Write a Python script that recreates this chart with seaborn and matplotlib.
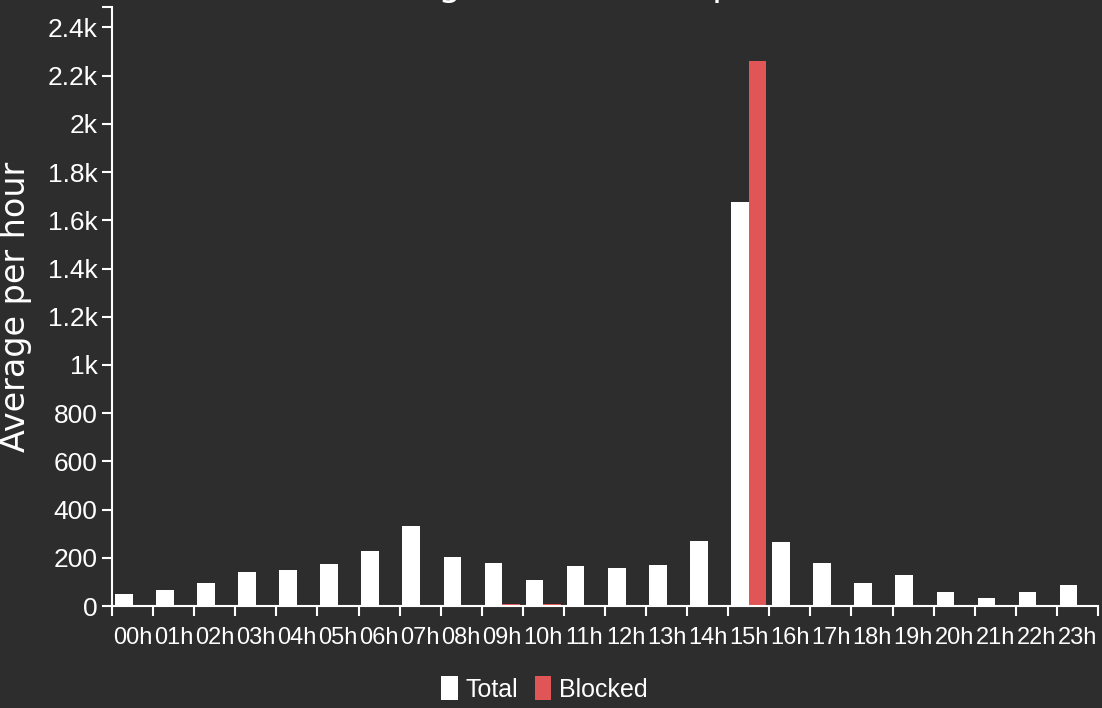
import matplotlib
matplotlib.use('Agg')
import matplotlib.pyplot as plt
import pandas as pd
import numpy as np
import seaborn as sns

hours = ["%02dh" % h for h in range(24)]
total = [48, 66, 95, 141, 148, 174, 228, 332, 205, 179, 109, 165,
         156, 170, 271, 1676, 264, 180, 97, 129, 59, 35, 58, 88]
blocked = [0, 0, 0, 0, 0, 0, 0, 0, 0, 7, 9, 0,
           3, 0, 0, 2259, 0, 0, 0, 4, 0, 0, 0, 0]
ytick_vals = [0, 200, 400, 600, 800, 1000, 1200, 1400, 1600, 1800, 2000, 2200, 2400]
ytick_labels = ["0", "200", "400", "600", "800", "1k", "1.2k", "1.4k", "1.6k",
                "1.8k", "2k", "2.2k", "2.4k"]

bg = "#2d2d2d"
fg = "white"
red = "#e05555"
narrow = "Liberation Sans"   # closest to the squeezed labels

df = pd.DataFrame({"hour": hours * 2,
                   "value": total + blocked,
                   "series": ["Total"] * 24 + ["Blocked"] * 24})

sns.set_theme(style="dark")
plt.rcParams['font.family'] = ['DejaVu Sans']

fig = plt.figure(figsize=(11.02, 7.08), dpi=100, facecolor=bg)
ax = fig.add_axes([112 / 1102, 1 - 606 / 708, 986 / 1102, 599 / 708])
ax.set_facecolor(bg)

sns.barplot(data=df, x="hour", y="value", hue="series",
            palette={"Total": fg, "Blocked": red}, width=0.86,
            saturation=1, linewidth=0, ax=ax)

ymax = max(blocked) * 1.1
ax.set_xlim(-0.5, 23.5)
ax.set_ylim(0, ymax)

for s in ["top", "right"]:
    ax.spines[s].set_visible(False)
for s in ["left", "bottom"]:
    ax.spines[s].set_color(fg)
    ax.spines[s].set_linewidth(1.5)

# labels in the middle of each hour, ticks on the edges
ax.set_xticks(range(24))
ax.set_xticklabels(hours, fontsize=17, color=fg, family=narrow)
ax.set_xticks(np.arange(-0.5, 24, 1), minor=True)
ax.tick_params(axis="x", which="major", length=0, pad=15)
ax.tick_params(axis="x", which="minor", length=7, width=1.5, color=fg, bottom=True)

ax.set_yticks(ytick_vals + [ymax])
ax.set_yticklabels(ytick_labels + [""], fontsize=19, color=fg, family=narrow)
ax.tick_params(axis="y", length=7, width=1.5, color=fg, pad=3.5, left=True)

ax.set_xlabel("")
ax.set_ylabel("Average per hour", fontsize=24, color=fg, va="center")
ax.yaxis.set_label_coords(-0.098, 0.5)
ax.grid(False)

# title sits mostly above the canvas, like in the screenshot
fig.text(371 / 1102, 1.0056, "Usage distribution per hour", fontsize=26,
         color=fg, ha="left", va="baseline")

handles, labels = ax.get_legend_handles_labels()
ax.legend(handles, labels, loc="center", bbox_to_anchor=(0.494, 0.027),
          bbox_transform=fig.transFigure, ncol=2, frameon=False,
          handlelength=0.65, handleheight=1.1, handletextpad=0.3,
          columnspacing=0.7, borderpad=0, labelcolor=fg,
          prop=dict(size=18, family=narrow))

fig.savefig("out.png", dpi=100, facecolor=bg)
